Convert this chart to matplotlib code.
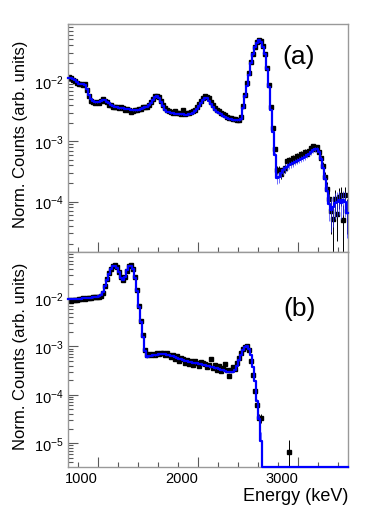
#!/usr/bin/env python3

""" Two-panel energy spectrum, data (black) vs simulation (blue) """

import numpy as np
import matplotlib
matplotlib.use('Agg')
from matplotlib import pyplot as plt
from matplotlib.ticker import MultipleLocator, LogLocator, NullFormatter

plt.rcParams['font.family'] = ['Liberation Sans', 'DejaVu Sans']
plt.rcParams['mathtext.fontset'] = 'custom'
plt.rcParams['mathtext.rm'] = 'Liberation Sans'
plt.rcParams['mathtext.it'] = 'Liberation Sans:italic'
plt.rcParams['mathtext.bf'] = 'Liberation Sans:bold'

# bins: 20 keV wide, first bin centred at 710 keV, last at 3490 keV
bin_width = 20
first_center = 710

# panel (a) simulation
sim_a = [
    1.15e-2, 1.14e-2, 1.10e-2, 1.04e-2, 9.6e-3, 9.2e-3, 9.1e-3, 9.1e-3, 8.7e-3, 7.6e-3,
    6.0e-3, 5.0e-3, 4.7e-3, 4.5e-3, 4.5e-3, 4.6e-3, 4.8e-3, 4.9e-3, 4.9e-3, 4.6e-3,
    4.3e-3, 4.1e-3, 3.9e-3, 3.8e-3, 3.7e-3, 3.6e-3, 3.6e-3, 3.55e-3, 3.5e-3, 3.5e-3,
    3.45e-3, 3.4e-3, 3.35e-3, 3.3e-3, 3.35e-3, 3.4e-3, 3.5e-3, 3.6e-3, 3.7e-3, 3.8e-3,
    4.0e-3, 4.4e-3, 4.9e-3, 5.4e-3, 5.6e-3, 5.3e-3, 4.6e-3, 3.9e-3, 3.4e-3, 3.15e-3,
    3.05e-3, 3.0e-3, 2.95e-3, 2.9e-3, 2.9e-3, 2.85e-3, 2.85e-3, 2.85e-3, 2.8e-3, 2.8e-3,
    2.85e-3, 2.9e-3, 3.0e-3, 3.2e-3, 3.5e-3, 3.9e-3, 4.4e-3, 4.9e-3, 5.2e-3, 5.2e-3,
    4.8e-3, 4.2e-3, 3.7e-3, 3.3e-3, 3.1e-3, 3.0e-3, 2.85e-3, 2.7e-3, 2.6e-3, 2.5e-3,
    2.4e-3, 2.35e-3, 2.3e-3, 2.3e-3, 2.25e-3, 2.25e-3, 2.4e-3, 3.6e-3, 5.6e-3, 8.5e-3,
    1.3e-2, 2.0e-2, 2.8e-2, 3.7e-2, 4.4e-2, 4.8e-2, 4.6e-2, 3.8e-2, 2.8e-2, 1.6e-2,
    8.0e-3, 3.3e-3, 1.45e-3, 6.0e-4, 2.5e-4, 2.6e-4, 3.0e-4, 3.3e-4, 3.6e-4, 3.8e-4,
    4.0e-4, 4.2e-4, 4.4e-4, 4.6e-4, 4.8e-4, 5.0e-4, 5.2e-4, 5.4e-4, 5.6e-4, 5.9e-4,
    6.3e-4, 6.7e-4, 7.1e-4, 7.4e-4, 7.4e-4, 6.6e-4, 5.2e-4, 3.6e-4, 2.4e-4, 1.5e-4,
    9.0e-5, 7.2e-5, 8.0e-5, 9.5e-5, 1.0e-4, 1.05e-4, 9.5e-5, 1.05e-4, 1.0e-4, 6.5e-5,
]

# panel (a) data
data_a = [
    1.2e-2, 1.12e-2, 1.05e-2, 1.0e-2, 9.3e-3, 9.0e-3, 9.2e-3, 8.8e-3, 8.9e-3, 7.2e-3,
    5.6e-3, 4.8e-3, 4.5e-3, 4.4e-3, 4.6e-3, 4.4e-3, 4.7e-3, 5.0e-3, 4.7e-3, 4.5e-3,
    4.1e-3, 4.0e-3, 3.8e-3, 3.7e-3, 3.8e-3, 3.6e-3, 3.7e-3, 3.6e-3, 3.4e-3, 3.5e-3,
    3.3e-3, 3.1e-3, 3.2e-3, 3.3e-3, 3.3e-3, 3.45e-3, 3.5e-3, 3.7e-3, 3.8e-3, 3.8e-3,
    4.1e-3, 4.6e-3, 5.1e-3, 5.6e-3, 5.8e-3, 5.5e-3, 4.8e-3, 4.1e-3, 3.6e-3, 3.3e-3,
    3.2e-3, 3.1e-3, 3.0e-3, 3.2e-3, 3.0e-3, 3.0e-3, 2.9e-3, 3.3e-3, 2.9e-3, 3.0e-3,
    3.0e-3, 3.1e-3, 3.2e-3, 3.4e-3, 3.8e-3, 4.2e-3, 4.8e-3, 5.3e-3, 5.7e-3, 5.5e-3,
    5.2e-3, 4.6e-3, 4.1e-3, 3.6e-3, 3.4e-3, 3.2e-3, 3.0e-3, 2.9e-3, 2.8e-3, 2.6e-3,
    2.5e-3, 2.45e-3, 2.4e-3, 2.35e-3, 2.3e-3, 2.3e-3, 2.6e-3, 3.9e-3, 5.9e-3, 9.5e-3,
    1.4e-2, 2.1e-2, 2.9e-2, 3.8e-2, 4.6e-2, 4.9e-2, 4.7e-2, 3.9e-2, 2.9e-2, 1.7e-2,
    8.8e-3, 3.8e-3, 1.7e-3, 7.5e-4, 3.4e-4, 3.3e-4, 2.9e-4, 3.4e-4, 3.6e-4, 4.8e-4,
    5.0e-4, 4.6e-4, 5.3e-4, 5.0e-4, 5.8e-4, 5.6e-4, 6.2e-4, 5.9e-4, 6.8e-4, 6.3e-4,
    7.0e-4, 7.8e-4, 8.5e-4, 7.6e-4, 8.0e-4, 6.8e-4, 5.3e-4, 3.9e-4, 2.6e-4, 1.6e-4,
    1.1e-4, 7.0e-5, 5.2e-5, 1.1e-4, 6.2e-5, 1.2e-4, 1.3e-4, 5.0e-5, 1.3e-4, 7.0e-5,
]

# panel (b) simulation
sim_b = [
    9.4e-3, 9.4e-3, 9.5e-3, 9.5e-3, 9.6e-3, 9.7e-3, 9.8e-3, 9.9e-3, 1.0e-2, 1.0e-2,
    1.01e-2, 1.02e-2, 1.03e-2, 1.04e-2, 1.05e-2, 1.08e-2, 1.15e-2, 1.35e-2, 1.8e-2, 2.4e-2,
    3.2e-2, 4.0e-2, 4.6e-2, 4.7e-2, 4.3e-2, 3.4e-2, 2.6e-2, 2.4e-2, 2.8e-2, 3.8e-2,
    4.6e-2, 4.7e-2, 4.0e-2, 2.6e-2, 1.4e-2, 6.5e-3, 3.2e-3, 1.6e-3, 8.0e-4, 6.0e-4,
    6.2e-4, 6.4e-4, 6.5e-4, 6.6e-4, 6.8e-4, 6.9e-4, 7.0e-4, 7.0e-4, 6.9e-4, 6.8e-4,
    6.6e-4, 6.4e-4, 6.2e-4, 6.0e-4, 5.8e-4, 5.6e-4, 5.4e-4, 5.25e-4, 5.1e-4, 5.0e-4,
    4.85e-4, 4.7e-4, 4.6e-4, 4.5e-4, 4.45e-4, 4.4e-4, 4.3e-4, 4.2e-4, 4.1e-4, 4.0e-4,
    3.9e-4, 3.8e-4, 3.7e-4, 3.6e-4, 3.5e-4, 3.4e-4, 3.3e-4, 3.2e-4, 3.1e-4, 3.0e-4,
    2.95e-4, 2.9e-4, 3.0e-4, 3.3e-4, 4.0e-4, 5.2e-4, 6.8e-4, 8.5e-4, 9.8e-4, 1.03e-3,
    9.0e-4, 6.5e-4, 3.8e-4, 1.9e-4, 7.5e-5, 3.2e-5, 1.1e-5, 0, 0, 0,
    0, 0, 0, 0, 0, 0, 0, 0, 0, 0,
    0, 0, 0, 0, 0, 0, 0, 0, 0, 0,
    0, 0, 0, 0, 0, 0, 0, 0, 0, 0,
    0, 0, 0, 0, 0, 0, 0, 0, 0, 0,
]

# panel (b) data (0 = empty bin)
data_b = [
    9.0e-3, 8.9e-3, 9.2e-3, 9.3e-3, 9.1e-3, 9.5e-3, 9.4e-3, 1.02e-2, 9.8e-3, 1.0e-2,
    1.0e-2, 1.01e-2, 1.03e-2, 1.05e-2, 1.06e-2, 1.07e-2, 1.12e-2, 1.3e-2, 1.75e-2, 2.5e-2,
    3.3e-2, 4.1e-2, 4.7e-2, 4.8e-2, 4.4e-2, 3.5e-2, 2.7e-2, 2.4e-2, 2.7e-2, 3.7e-2,
    4.7e-2, 4.8e-2, 4.1e-2, 2.7e-2, 1.5e-2, 7.0e-3, 3.4e-3, 1.7e-3, 8.5e-4, 6.8e-4,
    7.0e-4, 6.6e-4, 7.1e-4, 6.8e-4, 7.3e-4, 6.9e-4, 7.4e-4, 7.3e-4, 6.6e-4, 7.2e-4,
    6.8e-4, 6.0e-4, 6.5e-4, 5.6e-4, 6.2e-4, 5.0e-4, 5.7e-4, 5.5e-4, 4.6e-4, 5.3e-4,
    4.4e-4, 5.1e-4, 4.2e-4, 4.9e-4, 4.6e-4, 3.9e-4, 4.7e-4, 4.5e-4, 4.3e-4, 3.7e-4,
    4.2e-4, 5.4e-4, 3.6e-4, 4.2e-4, 3.3e-4, 3.9e-4, 3.1e-4, 3.6e-4, 4.4e-4, 3.2e-4,
    2.5e-4, 3.3e-4, 3.7e-4, 3.4e-4, 4.5e-4, 5.8e-4, 7.4e-4, 8.8e-4, 9.6e-4, 1.0e-3,
    8.6e-4, 5.0e-4, 2.6e-4, 1.2e-4, 6.0e-5, 3.3e-5, 3.3e-5, 0, 0, 0,
    0, 0, 0, 0, 0, 0, 0, 0, 0, 0,
    6.4e-6, 0, 0, 0, 0, 0, 0, 0, 0, 0,
    0, 0, 0, 0, 0, 0, 0, 0, 0, 0,
    0, 0, 0, 0, 0, 0, 0, 0, 0, 0,
]

# relative error scale of each panel: rel = stat * (1e-2 / value) ** 0.8
stat_a = 0.011
stat_b = 0.0022

panel_labels = ['(a)', '(b)']
x_range = (700, 3500)
y_ranges = [(1.45e-5, 0.09), (3.2e-6, 0.09)]


def draw_panel(ax, sim, data, stat, ylim, label, label_y):
    sim = np.array(sim)
    data = np.array(data)
    centers = first_center + bin_width * np.arange(len(sim))
    edges = np.append(centers - bin_width / 2, centers[-1] + bin_width / 2)

    # data points with error bars
    ok = data > 0
    d = data[ok]
    rel = stat * (1e-2 / d) ** 0.8
    ax.errorbar(centers[ok], d, yerr=[d * np.minimum(rel, 0.95), d * rel],
                fmt='s', color='black', ms=2.8, elinewidth=0.7, capsize=0,
                zorder=2)

    # simulation errors and histogram line
    ok = sim > 0
    s = sim[ok]
    rel = stat * (1e-2 / s) ** 0.8
    ax.errorbar(centers[ok], s, yerr=[s * np.minimum(rel, 0.95), s * rel],
                fmt='none', ecolor='#3030ff', elinewidth=0.6, capsize=0,
                alpha=0.8, zorder=3)
    shown = np.maximum(sim, ylim[0])
    ax.step(edges, np.append(shown, shown[-1]), where='post', color='blue',
            lw=1.6, zorder=4, clip_on=False)

    ax.set_yscale('log')
    ax.set_xlim(*x_range)
    ax.set_ylim(*ylim)
    ax.xaxis.set_major_locator(MultipleLocator(1000))
    ax.xaxis.set_minor_locator(MultipleLocator(200))
    ax.yaxis.set_major_locator(LogLocator(base=10))
    ax.yaxis.set_minor_locator(LogLocator(base=10, subs=np.arange(2, 10)))
    ax.yaxis.set_minor_formatter(NullFormatter())
    ax.tick_params(which='both', direction='in', top=False, right=False,
                   color='0.35', labelsize=10.5)
    ax.tick_params(which='major', length=7, width=0.8)
    ax.tick_params(which='minor', length=3.5, width=0.8)
    ax.tick_params(axis='y', pad=3)
    for sp in ax.spines.values():
        sp.set_color('0.6')
        sp.set_linewidth(1.0)
    ax.set_ylabel('Norm. Counts (arb. units)', fontsize=12)
    ax.text(0.825, label_y, label, transform=ax.transAxes,
            fontsize=19, ha='center', va='center')


fig = plt.figure(figsize=(3.74, 5.06), dpi=100)
ax_a = fig.add_axes([0.181, 0.5, 0.750, 0.4506])
ax_b = fig.add_axes([0.181, 0.0751, 0.750, 0.4249])

draw_panel(ax_a, sim_a, data_a, stat_a, y_ranges[0], panel_labels[0], 0.86)
draw_panel(ax_b, sim_b, data_b, stat_b, y_ranges[1], panel_labels[1], 0.74)

ax_a.tick_params(axis='x', labelbottom=False)
ax_a.yaxis.set_label_coords(-0.14, 0.52)
ax_b.yaxis.set_label_coords(-0.14, 0.52)
ax_b.tick_params(axis='x', pad=3)
for lab in ax_b.get_xticklabels():
    lab.set_horizontalalignment('right')
ax_b.set_xlabel('Energy (keV)', fontsize=13, loc='right', labelpad=1)

fig.savefig('out.png', dpi=100)
